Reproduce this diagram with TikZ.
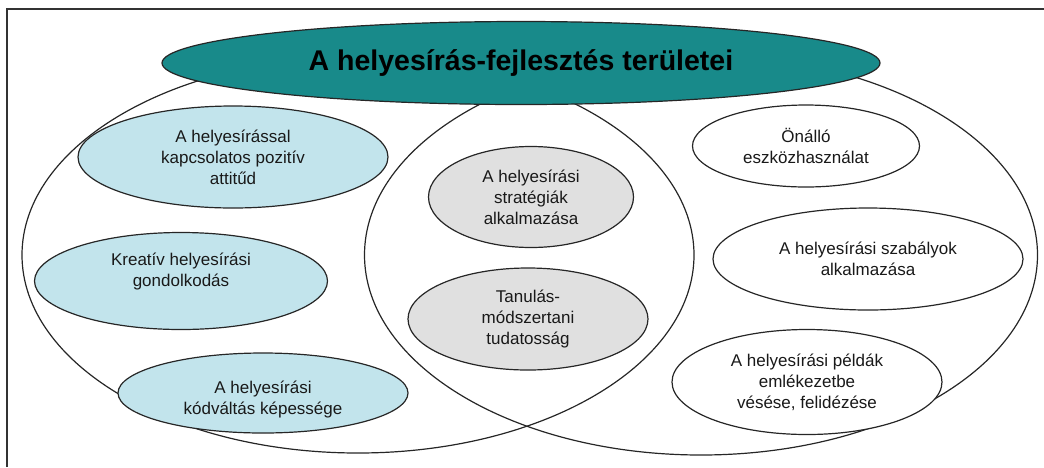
\documentclass[tikz,border=0pt]{standalone}
\usepackage{fontspec}
\setmainfont{Liberation Sans}
\usetikzlibrary{shapes.geometric}
\definecolor{titleteal}{RGB}{24,138,138}
\definecolor{skillblue}{RGB}{194,228,236}
\definecolor{methodgray}{RGB}{224,224,224}
\begin{document}
\begin{tikzpicture}[x=1pt,y=-1pt,
    area/.style={ellipse,draw=black!85,line width=1.2pt,inner sep=0pt},
    field/.style={ellipse,draw=black!85,line width=1.2pt,inner sep=0pt,align=center,
      font=\fontsize{17}{21}\selectfont,text=black!90}]
  \useasboundingbox (0,0) rectangle (1044,467);
  \draw[line width=1.2pt,black!80] (7,467) -- (7,9) -- (1044,9);
  \node[area,minimum width=672pt,minimum height=396pt] (leftarea) at (358,255) {};
  \node[area,minimum width=673pt,minimum height=400pt] (rightarea) at (701,255) {};
  \node[ellipse,draw=black!85,line width=1.2pt,fill=titleteal,inner sep=0pt,
    minimum width=718pt,minimum height=83pt,
    font=\fontsize{28.5}{34}\selectfont\bfseries] (title) at (521,63)
    {A helyesírás-fejlesztés területei};
  \begin{scope}[every node/.append style={field,fill=skillblue}]
    \node[minimum width=310pt,minimum height=102pt] (attitud) at (233,157)
      {A helyesírással\\kapcsolatos pozitív\\attitűd};
    \node[minimum width=293pt,minimum height=97pt,text depth=22pt] (kreativ) at (181,281)
      {Kreatív helyesírási\\gondolkodás};
    \node[minimum width=290pt,minimum height=80pt,text height=46pt] (kodvaltas) at (263,393)
      {A helyesírási\\kódváltás képessége};
  \end{scope}
  \begin{scope}[every node/.append style={field,fill=methodgray}]
    \node[minimum width=205pt,minimum height=101pt] (strategiak) at (531,197)
      {A helyesírási\\stratégiák\\alkalmazása};
    \node[minimum width=240pt,minimum height=102pt] (tudatossag) at (528,319)
      {Tanulás-\\módszertani\\tudatosság};
  \end{scope}
  \begin{scope}[every node/.append style={field,fill=white}]
    \node[minimum width=227pt,minimum height=82pt] (onallo) at (806,146)
      {Önálló\\eszközhasználat};
    \node[minimum width=310pt,minimum height=102pt] (szabalyok) at (868,259)
      {A helyesírási szabályok\\alkalmazása};
    \node[minimum width=270pt,minimum height=105pt] (peldak) at (807,382)
      {A helyesírási példák\\emlékezetbe\\vésése, felidézése};
  \end{scope}
\end{tikzpicture}
\end{document}
